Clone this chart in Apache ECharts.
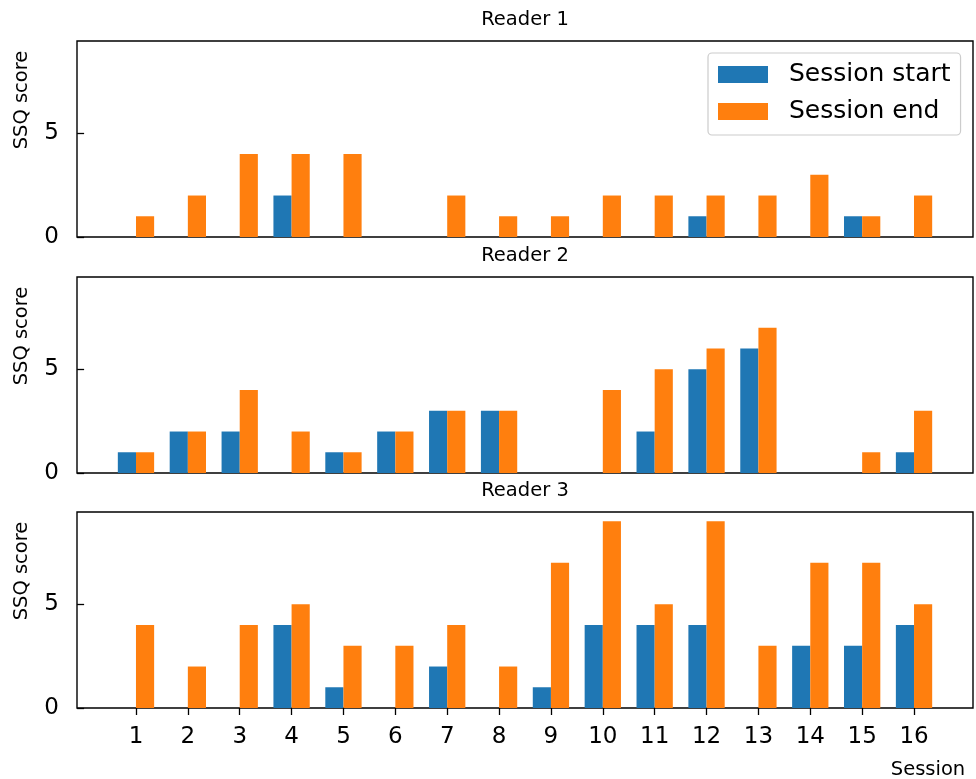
<!DOCTYPE html>
<html>
<head>
<meta charset="utf-8">
<script src="https://cdn.jsdelivr.net/npm/echarts@6/dist/echarts.min.js"></script>
<style>
  html, body { margin: 0; padding: 0; background: #fff; }
  #main { width: 976px; height: 779px; }
</style>
</head>
<body>
<div id="main"></div>
<script>
// sessions 1..16
var sessions = [1, 2, 3, 4, 5, 6, 7, 8, 9, 10, 11, 12, 13, 14, 15, 16];

// SSQ scores per reader
var reader1Start = [0, 0, 0, 2, 0, 0, 0, 0, 0, 0, 0, 1, 0, 0, 1, 0];
var reader1End   = [1, 2, 4, 4, 4, 0, 2, 1, 1, 2, 2, 2, 2, 3, 1, 2];
var reader2Start = [1, 2, 2, 0, 1, 2, 3, 3, 0, 0, 2, 5, 6, 0, 0, 1];
var reader2End   = [1, 2, 4, 2, 1, 2, 3, 3, 0, 4, 5, 6, 7, 0, 1, 3];
var reader3Start = [0, 0, 0, 4, 1, 0, 2, 0, 1, 4, 4, 4, 0, 3, 3, 4];
var reader3End   = [4, 2, 4, 5, 3, 3, 4, 2, 7, 9, 5, 9, 3, 7, 7, 5];

var readerNames = ['Reader 1', 'Reader 2', 'Reader 3'];
var yTicks = [0, 5];

var FONT = 'DejaVu Sans';
var BLUE = '#1f77b4';
var ORANGE = '#ff7f0e';

var gridLeft = 77;
var gridRight = 3;
var gridTops = [41, 277, 512];
var gridHeight = 196;
var xMin = -0.137, xMax = 17.137;
// bar width 0.35 in data units -> pixels
var plotW = 976 - gridLeft - gridRight;
var barPx = 0.35 * plotW / (xMax - xMin);

function pairs(vals) {
    return sessions.map(function (s, i) { return [s, vals[i]]; });
}

var data = [
    [reader1Start, reader1End],
    [reader2Start, reader2End],
    [reader3Start, reader3End]
];

var grids = [], xAxes = [], yAxes = [], series = [], graphics = [];

for (var k = 0; k < 3; k++) {
    grids.push({
        left: gridLeft, right: gridRight, top: gridTops[k], height: gridHeight,
        show: true, borderColor: '#000', borderWidth: 1.4, backgroundColor: 'transparent',
        outerBoundsMode: 'none'
    });
    var last = (k === 2);
    xAxes.push({
        type: 'value', gridIndex: k, min: xMin, max: xMax,
        axisLine: { show: false },
        splitLine: { show: false },
        axisTick: { show: last, length: 7, lineStyle: { color: '#000', width: 1.3 }, customValues: sessions },
        axisLabel: { show: last, margin: 18, fontFamily: FONT, fontSize: 23, color: '#000', customValues: sessions }
    });
    yAxes.push({
        type: 'value', gridIndex: k, min: 0, max: 9.45,
        axisLine: { show: false },
        splitLine: { show: false },
        axisTick: { show: true, length: 7, lineStyle: { color: '#000', width: 1.3 }, customValues: yTicks },
        axisLabel: { margin: 18, fontFamily: FONT, fontSize: 23, color: '#000', customValues: yTicks }
    });
    series.push({
        name: 'Session start', type: 'bar', xAxisIndex: k, yAxisIndex: k,
        data: pairs(data[k][0]), barWidth: barPx, barGap: 0,
        itemStyle: { color: BLUE }
    });
    series.push({
        name: 'Session end', type: 'bar', xAxisIndex: k, yAxisIndex: k,
        data: pairs(data[k][1]), barWidth: barPx, barGap: 0,
        itemStyle: { color: ORANGE }
    });
    graphics.push({
        type: 'text', x: 525, y: gridTops[k] - 21,
        style: { text: readerNames[k], font: '19.5px "DejaVu Sans"', fill: '#000', align: 'center', verticalAlign: 'middle' }
    });
    graphics.push({
        type: 'text', x: 22, y: gridTops[k] + gridHeight / 2 - 39, rotation: Math.PI / 2,
        style: { text: 'SSQ score', font: '19.5px "DejaVu Sans"', fill: '#000', align: 'center', verticalAlign: 'middle' }
    });
}

graphics.push({
    type: 'text', x: 928, y: 770,
    style: { text: 'Session', font: '19.5px "DejaVu Sans"', fill: '#000', align: 'center', verticalAlign: 'middle' }
});

var myChart = echarts.init(document.getElementById('main'), null, { renderer: 'canvas' });
myChart.setOption({
    animation: false,
    backgroundColor: '#fff',
    grid: grids,
    xAxis: xAxes,
    yAxis: yAxes,
    legend: {
        data: ['Session start', 'Session end'],
        orient: 'vertical',
        left: 708, top: 53,
        padding: [9, 10, 11, 10],
        itemWidth: 50, itemHeight: 17, itemGap: 12,
        icon: 'rect',
        backgroundColor: 'rgba(255,255,255,0.8)',
        borderColor: '#cccccc', borderWidth: 1.2, borderRadius: 4,
        textStyle: { fontFamily: FONT, fontSize: 25, color: '#000', padding: [0, 0, 0, 16] }
    },
    graphic: graphics,
    series: series
});
</script>
</body>
</html>
